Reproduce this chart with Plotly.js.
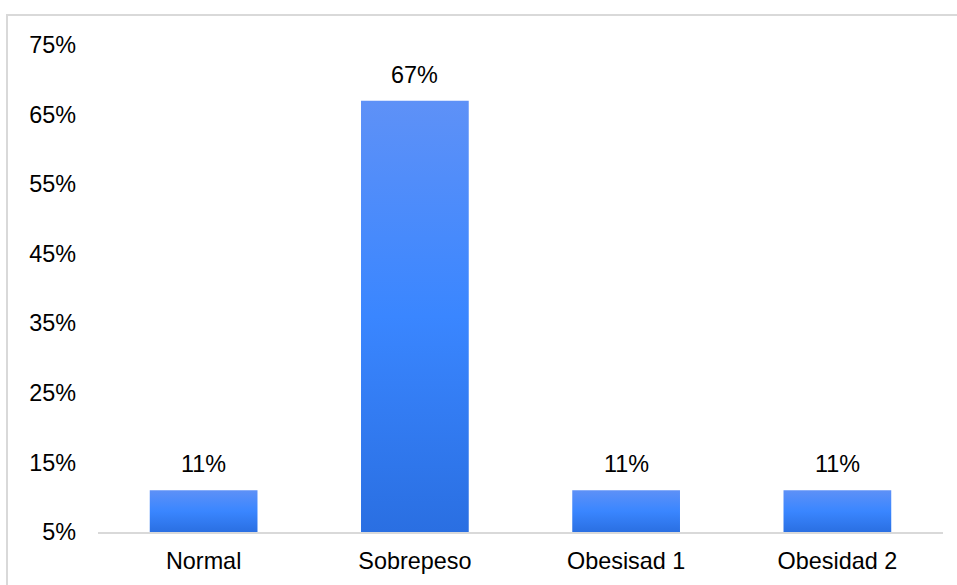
<!DOCTYPE html>
<html>
<head>
<meta charset="utf-8">
<script src="https://cdn.plot.ly/plotly-3.0.1.min.js"></script>
<style>
  html, body { margin: 0; padding: 0; background: #fff; overflow: hidden; }
  #wrap { position: relative; width: 957px; height: 585px; }
  #frame { position: absolute; left: 6px; top: 14px; width: 1000px; height: 1000px;
           border: 2px solid #d9d9d9; box-sizing: border-box; pointer-events: none; }
  #chart { position: absolute; left: 0; top: 0; width: 957px; height: 585px; }
</style>
</head>
<body>
<div id="wrap">
  <div id="chart"></div>
  <div id="frame"></div>
</div>
<script>
const categories = ["Normal", "Sobrepeso", "Obesisad 1", "Obesidad 2"];
const values = [11, 67, 11, 11];
const yTickVals = [5, 15, 25, 35, 45, 55, 65, 75];
const yTickText = ["5%", "15%", "25%", "35%", "45%", "55%", "65%", "75%"];

const font = { family: "Liberation Sans, Arial, sans-serif", size: 23.4, color: "#000000" };

const trace = {
  type: "bar",
  x: categories,
  y: values,
  marker: { color: "#3a86ff", line: { width: 0 } },
  hoverinfo: "none"
};

const annotations = categories.map((c, i) => ({
  x: c, y: values[i], xref: "x", yref: "y",
  text: values[i] + "%", showarrow: false,
  yanchor: "bottom", yshift: 11,
  font: font
}));

const layout = {
  width: 957, height: 585,
  margin: { l: 98, r: 14, t: 45, b: 53 },
  paper_bgcolor: "rgba(0,0,0,0)",
  plot_bgcolor: "#ffffff",
  font: font,
  showlegend: false,
  bargap: 0.49,
  xaxis: {
    type: "category",
    showgrid: false, zeroline: false,
    showline: true, linecolor: "#d9d9d9", linewidth: 1.5,
    ticks: "", ticklabelstandoff: 7,
    tickfont: font, fixedrange: true
  },
  yaxis: {
    range: [5, 75],
    tickvals: yTickVals, ticktext: yTickText,
    showgrid: false, zeroline: false, showline: false,
    ticks: "", ticklabelstandoff: 21,
    tickfont: font, fixedrange: true
  },
  annotations: annotations
};

Plotly.newPlot("chart", [trace], layout, { displayModeBar: false, staticPlot: true }).then(gd => {
  const svg = gd.querySelector("svg.main-svg");
  const NS = "http://www.w3.org/2000/svg";
  let defs = svg.querySelector("defs");
  if (!defs) { defs = document.createElementNS(NS, "defs"); svg.insertBefore(defs, svg.firstChild); }
  const plotH = gd._fullLayout.yaxis._length;
  const paths = gd.querySelectorAll(".trace.bars .point path");
  paths.forEach((p, i) => {
    const bb = p.getBBox();
    const top = Math.max(bb.y, 0);
    const bot = Math.min(bb.y + bb.height, plotH);
    const g = document.createElementNS(NS, "linearGradient");
    g.setAttribute("id", "barGrad" + i);
    g.setAttribute("gradientUnits", "userSpaceOnUse");
    g.setAttribute("x1", 0); g.setAttribute("x2", 0);
    g.setAttribute("y1", top); g.setAttribute("y2", bot);
    [["0", "#5e91f7"], ["0.5", "#3a86ff"], ["1", "#2a6fe2"]].forEach(([o, c]) => {
      const s = document.createElementNS(NS, "stop");
      s.setAttribute("offset", o); s.setAttribute("stop-color", c);
      g.appendChild(s);
    });
    defs.appendChild(g);
    p.style.fill = "url(#barGrad" + i + ")";
    p.style.fillOpacity = 1;
  });
});
</script>
</body>
</html>
